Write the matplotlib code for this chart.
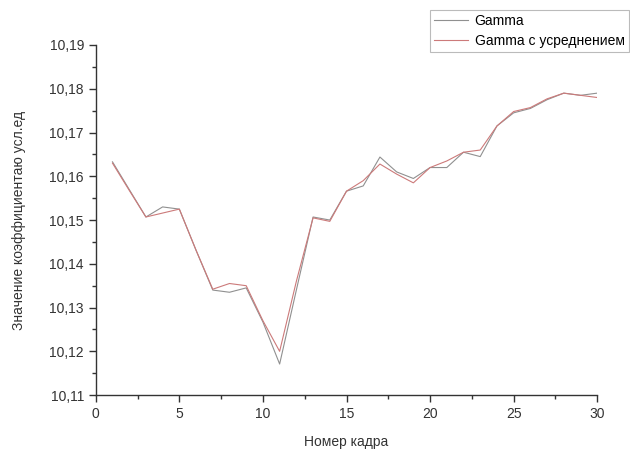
import matplotlib.pyplot as plt
from matplotlib.ticker import MultipleLocator, FuncFormatter

plt.rcParams['font.family'] = ['Liberation Sans', 'DejaVu Sans']

# frame numbers
frames = list(range(1, 31))

# raw gamma values
gamma = [10.1633, 10.1570, 10.1507, 10.1530, 10.1525, 10.1431, 10.1340, 10.1335,
         10.1345, 10.1267, 10.1171, 10.1340, 10.1507, 10.1500, 10.1566, 10.1578,
         10.1644, 10.1610, 10.1595, 10.1620, 10.1620, 10.1655, 10.1645, 10.1715,
         10.1745, 10.1755, 10.1775, 10.1790, 10.1785, 10.1790]

# averaged gamma values
gamma_avg = [10.1630, 10.1568, 10.1507, 10.1516, 10.1525, 10.1431, 10.1342, 10.1355,
             10.1350, 10.1270, 10.1200, 10.1360, 10.1505, 10.1497, 10.1566, 10.1590,
             10.1628, 10.1605, 10.1585, 10.1620, 10.1635, 10.1655, 10.1660, 10.1715,
             10.1748, 10.1757, 10.1777, 10.1790, 10.1785, 10.1780]

fig = plt.figure(figsize=(6.3, 4.5), dpi=100)
ax = fig.add_axes([0.152, 0.122, 0.796, 0.778])

l1, = ax.plot(frames, gamma, color='#909090', lw=0.8, label='Gamma')
l2, = ax.plot(frames, gamma_avg, color='#cc7a7a', lw=0.8, label='Gamma с усреднением')

ax.set_xlim(0, 30)
ax.set_ylim(10.11, 10.19)
ax.xaxis.set_major_locator(MultipleLocator(5))
ax.xaxis.set_minor_locator(MultipleLocator(2.5))
ax.yaxis.set_major_locator(MultipleLocator(0.01))
ax.yaxis.set_minor_locator(MultipleLocator(0.005))
ax.yaxis.set_major_formatter(FuncFormatter(lambda v, p: f'{v:.2f}'.replace('.', ',')))

ax.spines['top'].set_visible(False)
ax.spines['right'].set_visible(False)
for s in ('left', 'bottom'):
    ax.spines[s].set_linewidth(1.0)
    ax.spines[s].set_color('#333333')
ax.tick_params(which='major', direction='out', length=5, width=1, labelsize=10, colors='#333333')
ax.tick_params(which='minor', direction='out', length=3, width=1, colors='#333333')

ax.set_xlabel('Номер кадра', fontsize=10, color='#333333', labelpad=10)
ax.set_ylabel('Значение коэффициентаю усл.ед', fontsize=10, color='#333333', labelpad=17)

leg = fig.legend(handles=[l1, l2], loc='upper left', bbox_to_anchor=(0.683, 0.978), fontsize=10,
                 frameon=True, fancybox=False, edgecolor='#aaaaaa',
                 handlelength=2.4, handletextpad=0.5, borderpad=0.3, labelspacing=0.45,
                 borderaxespad=0)
leg.get_frame().set_linewidth(0.8)

fig.savefig('out.png', dpi=100)
